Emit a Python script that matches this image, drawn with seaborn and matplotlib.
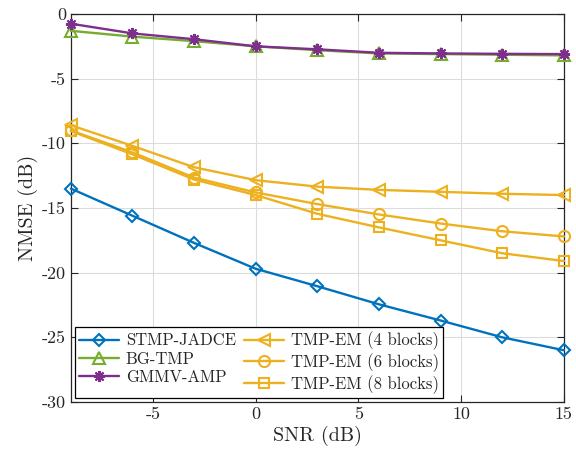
import matplotlib
matplotlib.use("Agg")
import matplotlib.pyplot as plt
import seaborn as sns
import pandas as pd

# SNR points (dB)
snr = [-9, -6, -3, 0, 3, 6, 9, 12, 15]

# NMSE (dB)
stmp_jadce = [-13.5, -15.6, -17.7, -19.7, -21.05, -22.45, -23.7, -25.0, -26.0]
bg_tmp = [-1.3, -1.75, -2.1, -2.5, -2.8, -3.05, -3.1, -3.15, -3.2]
gmmv_amp = [-0.75, -1.5, -1.95, -2.5, -2.73, -3.0, -3.05, -3.08, -3.1]
tmp_em4 = [-8.6, -10.2, -11.85, -12.85, -13.35, -13.6, -13.75, -13.9, -14.0]
tmp_em6 = [-9.0, -10.7, -12.65, -13.8, -14.7, -15.5, -16.2, -16.8, -17.2]
tmp_em8 = [-9.05, -10.85, -12.8, -14.0, -15.45, -16.5, -17.5, -18.5, -19.1]

labels = ["STMP-JADCE", "BG-TMP", "GMMV-AMP",
          "TMP-EM (4 blocks)", "TMP-EM (6 blocks)", "TMP-EM (8 blocks)"]
series = [stmp_jadce, bg_tmp, gmmv_amp, tmp_em4, tmp_em6, tmp_em8]
colors = ["#0072BD", "#77AC30", "#7E2F8E", "#EDB120", "#EDB120", "#EDB120"]
markers = ["D", "^", (8, 2, 0), "<", "o", "s"]
msizes = [6.5, 8, 8, 8, 8, 7]

sns.set_style("ticks")
plt.rcParams["font.family"] = ["cmr10", "DejaVu Serif"]
plt.rcParams["mathtext.fontset"] = "cm"
plt.rcParams["axes.unicode_minus"] = False

fig = plt.figure(figsize=(5.76, 4.53), dpi=100)
ax = fig.add_axes([0.123, 0.1126, 0.856, 0.8565])

for lab, vals, c, m, ms in zip(labels, series, colors, markers, msizes):
    df = pd.DataFrame({"snr": snr, "nmse": vals})
    sns.lineplot(data=df, x="snr", y="nmse", ax=ax, color=c, marker=m,
                 markersize=ms, markerfacecolor="none", markeredgecolor=c,
                 markeredgewidth=1.5, linewidth=1.7, label=lab, clip_on=False,
                 zorder=3)

ax.set_xlim(-9, 15)
ax.set_ylim(-30, 0)
ax.set_xticks([-5, 0, 5, 10, 15])
ax.set_xticklabels(["-5", "0", "5", "10", "15"])
ax.set_yticks([-30, -25, -20, -15, -10, -5, 0])
ax.set_yticklabels(["-30", "-25", "-20", "-15", "-10", "-5", "0"])
ax.grid(True, color="#dcdcdc", linewidth=0.8)
ax.set_axisbelow(True)
ax.tick_params(direction="in", top=True, right=True, labelsize=13, length=5, width=0.8)
for s in ax.spines.values():
    s.set_linewidth(0.9)
    s.set_color("#262626")
ax.set_xlabel("SNR (dB)", fontsize=14.5, labelpad=3)
ax.set_ylabel("NMSE (dB)", fontsize=14.5, labelpad=3)

leg = ax.legend(loc="lower left", ncol=2, fontsize=12, frameon=True, fancybox=False,
                edgecolor="black", framealpha=1, borderaxespad=0.25,
                handlelength=2.4, columnspacing=0.5, handletextpad=0.4,
                labelspacing=0.18, borderpad=0.25)
leg.get_frame().set_linewidth(0.9)
leg.set_zorder(5)

fig.savefig("out.png", dpi=100)
